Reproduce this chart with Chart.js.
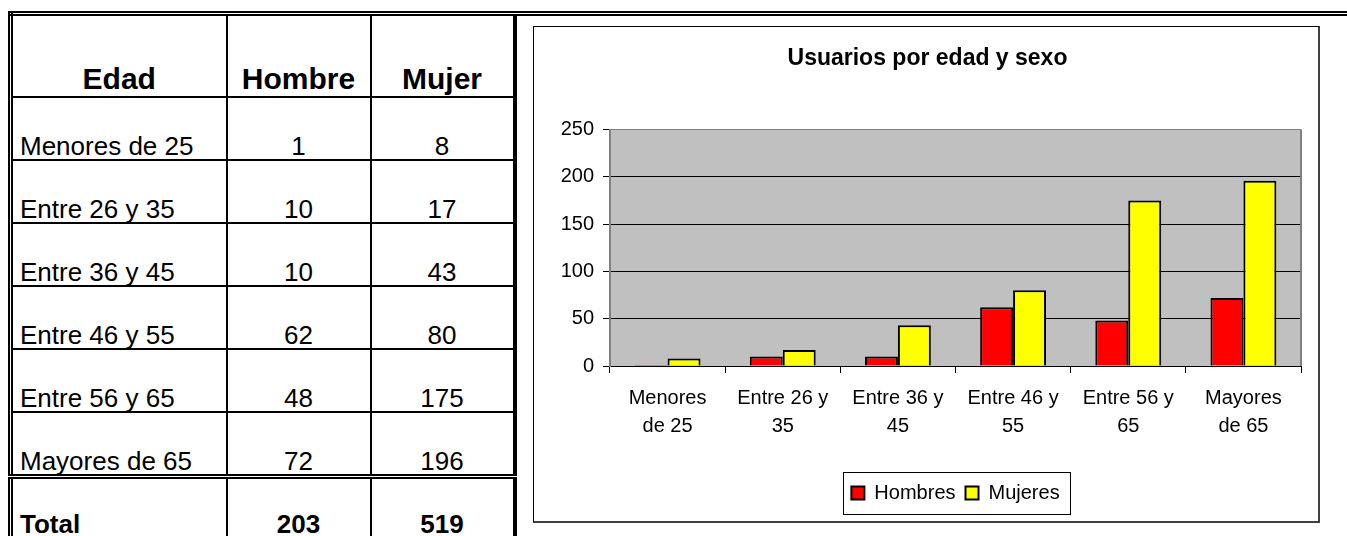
<!DOCTYPE html>
<html>
<head>
<meta charset="utf-8">
<script src="https://cdn.jsdelivr.net/npm/chart.js@4.4.1/dist/chart.umd.min.js"></script>
<style>
    body { margin: 0; width: 1347px; height: 536px; overflow: hidden; background: #fff;
           font-family: "Liberation Sans", Arial, sans-serif; color: #000; }
    #topline { position: absolute; left: 8px; top: 11px; width: 1339px; border-top: 5px double #000; }
    table { position: absolute; left: 8px; top: 11px; border-collapse: collapse; table-layout: fixed;
            border-left: 5px double #000; border-right: 4px solid #000; border-top: 5px double #000; }
    td { border: 2px solid #000; vertical-align: bottom; padding: 0; font-size: 26px; line-height: 1;
         white-space: nowrap; overflow: hidden; text-align: center; }
    td.name { text-align: left; padding-left: 7px; }
    tr.head td { font-weight: bold; font-size: 30px; height: 80px; line-height: normal; }
    tr.row td { height: 61px; }
    tr.total td { font-weight: bold; font-size: 26px; height: 61px; line-height: normal; border-top: 5px double #000; }
    #box { position: absolute; left: 533px; top: 26px; width: 784px; height: 494px;
           border: 1px solid #000; border-right: 2px solid #404040; border-bottom: 2px solid #404040; }
    canvas { display: block; }
</style>
</head>
<body>
<div id="topline"></div>
<table id="tabla">
    <colgroup><col style="width:216px"><col style="width:144px"><col style="width:144px"></colgroup>
    <tbody></tbody>
</table>
<div id="box"><canvas id="grafico" width="784" height="494"></canvas></div>
<script>
// Datos de la tabla y la gráfica
const grupos = ['Menores de 25', 'Entre 26 y 35', 'Entre 36 y 45', 'Entre 46 y 55', 'Entre 56 y 65', 'Mayores de 65'];
const etiquetasEje = [['Menores', 'de 25'], ['Entre 26 y', '35'], ['Entre 36 y', '45'], ['Entre 46 y', '55'], ['Entre 56 y', '65'], ['Mayores', 'de 65']];
const hombres = [1, 10, 10, 62, 48, 72];
const mujeres = [8, 17, 43, 80, 175, 196];
const ticksY = [0, 50, 100, 150, 200, 250];

const FUENTE = '"Liberation Sans", Arial, sans-serif';

// Tabla de la izquierda
const tbody = document.querySelector('#tabla tbody');
const fila = (clase, celdas) => {
    const tr = document.createElement('tr');
    tr.className = clase;
    celdas.forEach((txt, i) => {
        const td = document.createElement('td');
        if (i === 0 && clase !== 'head') td.className = 'name';
        td.textContent = txt;
        tr.appendChild(td);
    });
    tbody.appendChild(tr);
};
fila('head', ['Edad', 'Hombre', 'Mujer']);
grupos.forEach((g, i) => fila('row', [g, hombres[i], mujeres[i]]));
const suma = arr => arr.reduce((a, b) => a + b, 0);
fila('total', ['Total', suma(hombres), suma(mujeres)]);

// Fondo gris del área de trazado y borde derecho
const marcoTrazado = {
    id: 'marcoTrazado',
    beforeDraw(chart) {
        const { ctx, chartArea: a } = chart;
        ctx.save();
        ctx.fillStyle = '#C0C0C0';
        ctx.fillRect(a.left, a.top, a.width, a.height);
        ctx.restore();
    },
    beforeDatasetsDraw(chart) {
        const { ctx, chartArea: a } = chart;
        ctx.save();
        ctx.strokeStyle = '#808080';
        ctx.lineWidth = 2;
        ctx.beginPath();
        ctx.moveTo(a.right, a.top);
        ctx.lineTo(a.right, a.bottom);
        ctx.stroke();
        ctx.restore();
    }
};

// Recuadro alrededor de la leyenda
const marcoLeyenda = {
    id: 'marcoLeyenda',
    afterDraw(chart) {
        const cajas = chart.legend.legendHitBoxes;
        if (!cajas || !cajas.length) return;
        const primera = cajas[0], ultima = cajas[cajas.length - 1];
        const centro = primera.top + primera.height / 2;
        const x0 = primera.left - 8, x1 = ultima.left + ultima.width + 11;
        const { ctx } = chart;
        ctx.save();
        ctx.strokeStyle = '#000';
        ctx.lineWidth = 1;
        ctx.strokeRect(Math.round(x0) + 0.5, Math.round(centro - 21) + 0.5, Math.round(x1 - x0), 42);
        ctx.restore();
    }
};

new Chart(document.getElementById('grafico').getContext('2d'), {
    type: 'bar',
    data: {
        labels: etiquetasEje,
        datasets: [
            { label: 'Hombres', data: hombres, backgroundColor: '#FF0000', borderColor: '#000', borderWidth: 2 },
            { label: 'Mujeres', data: mujeres, backgroundColor: '#FFFF00', borderColor: '#000', borderWidth: 2 }
        ]
    },
    options: {
        responsive: false,
        animation: false,
        layout: { padding: { left: 20, right: 17, top: 0, bottom: 8 } },
        datasets: { bar: { categoryPercentage: 0.572, barPercentage: 1 } },
        plugins: {
            title: {
                display: true,
                text: 'Usuarios por edad y sexo',
                color: '#000',
                font: { family: FUENTE, size: 23, weight: 'bold' },
                padding: { top: 18, bottom: 57 }
            },
            legend: {
                position: 'bottom',
                fullSize: false,
                labels: { color: '#000', font: { family: FUENTE, size: 20 }, boxWidth: 13, boxHeight: 13, padding: 10 }
            },
            tooltip: { enabled: false }
        },
        scales: {
            x: {
                grid: { offset: true, drawOnChartArea: false, color: '#000', tickLength: 7 },
                border: { color: '#000', width: 1 },
                ticks: { color: '#000', font: { family: FUENTE, size: 20, lineHeight: 1.4 }, padding: 11, maxRotation: 0, autoSkip: false },
                afterFit: s => { s.height = 107; }
            },
            y: {
                min: 0,
                max: 250,
                afterBuildTicks: s => { s.ticks = ticksY.map(v => ({ value: v })); },
                ticks: { color: '#000', font: { family: FUENTE, size: 20 }, padding: 9 },
                grid: { color: c => c.tick && c.tick.value === 250 ? '#808080' : '#000', tickColor: '#000', tickLength: 7 },
                border: { color: '#808080', width: 2 },
                afterFit: s => { s.width = 56; }
            }
        }
    },
    plugins: [marcoTrazado, marcoLeyenda]
});
</script>
</body>
</html>
